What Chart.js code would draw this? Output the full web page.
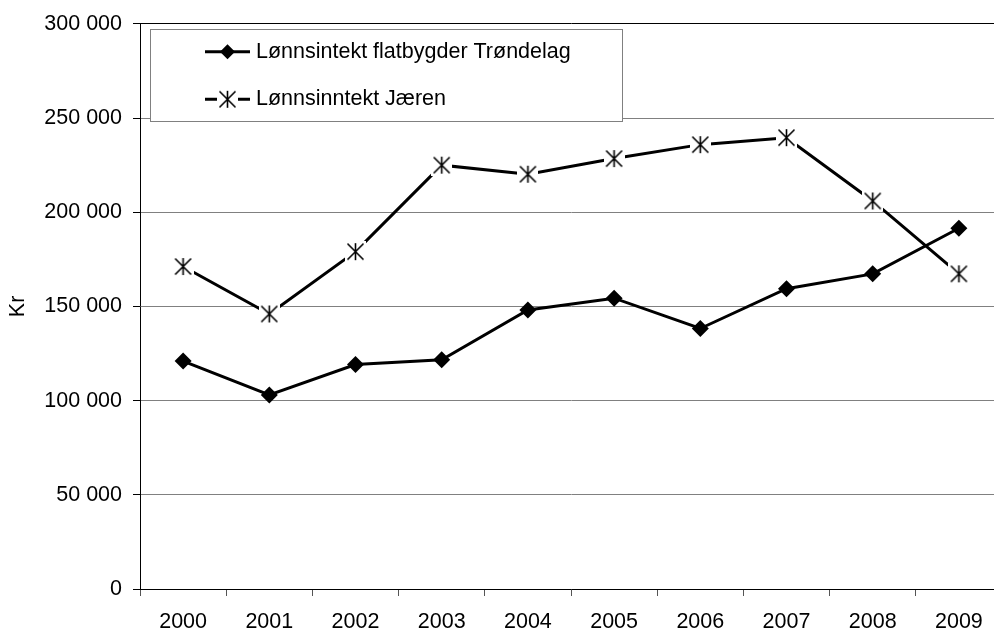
<!DOCTYPE html>
<html>
<head>
<meta charset="utf-8">
<script src="https://cdn.jsdelivr.net/npm/chart.js@4/dist/chart.umd.min.js"></script>
<style>
html,body{margin:0;padding:0;overflow:hidden;background:#fff;width:994px;height:631px}
#wrap{position:relative;width:1002px;height:631px}
</style>
</head>
<body>
<div id="wrap"><canvas id="c" width="1002" height="631"></canvas></div>
<script>
const categories = ['2000','2001','2002','2003','2004','2005','2006','2007','2008','2009'];
const trondelag = [121000,103000,119200,121700,148100,154400,138300,159400,167300,191500];
const jaeren = [171200,146000,179100,225000,220200,228500,235900,239600,206000,167300];
const seriesNames = ['Lønnsintekt flatbygder Trøndelag','Lønnsinntekt Jæren'];
const yTickValues = [0,50000,100000,150000,200000,250000,300000];
const yAxisTitle = 'Kr';

const FONT = "'Liberation Sans', Arial, sans-serif";
const FS = 21.5;

function fmt(v){ return String(v).replace(/\B(?=(\d{3})+(?!\d))/g,' '); }

function makeStar(){
  const size = 21;
  const c = document.createElement('canvas');
  c.width = size; c.height = size;
  const g = c.getContext('2d');
  g.fillStyle = '#fff';
  g.fillRect(0,0,size,size);
  g.strokeStyle = '#000';
  g.lineWidth = 1.6;
  const m = size/2, r = 8.5, d = 8;
  g.beginPath();
  g.moveTo(m, m-r); g.lineTo(m, m+r);
  g.moveTo(m-d, m-d); g.lineTo(m+d, m+d);
  g.moveTo(m+d, m-d); g.lineTo(m-d, m+d);
  g.stroke();
  return c;
}
const starImg = makeStar();

function drawDiamond(ctx, x, y, r){
  ctx.beginPath();
  ctx.moveTo(x, y-r); ctx.lineTo(x+r, y); ctx.lineTo(x, y+r); ctx.lineTo(x-r, y);
  ctx.closePath();
  ctx.fillStyle = '#000';
  ctx.fill();
}

const legendPlugin = {
  id: 'boxLegend',
  afterDraw(chart){
    const ctx = chart.ctx;
    ctx.save();
    const bx = 150.5, by = 29.5, bw = 472, bh = 92;
    ctx.fillStyle = '#fff';
    ctx.fillRect(bx, by, bw, bh);
    ctx.strokeStyle = '#808080';
    ctx.lineWidth = 1;
    ctx.strokeRect(bx, by, bw, bh);
    const ys = [51.7, 99.3];
    chart.data.datasets.forEach((ds, i) => {
      const y = ys[i];
      ctx.strokeStyle = '#000';
      ctx.lineWidth = 3;
      ctx.beginPath();
      ctx.moveTo(205, y); ctx.lineTo(250, y);
      ctx.stroke();
      if (i === 0) drawDiamond(ctx, 227.5, y, 7.5);
      else ctx.drawImage(starImg, 227.5 - starImg.width/2, y - starImg.height/2);
      ctx.fillStyle = '#000';
      ctx.font = FS + 'px ' + FONT;
      ctx.textBaseline = 'middle';
      ctx.textAlign = 'left';
      ctx.fillText(ds.label, 256, y);
    });
    ctx.restore();
  }
};

Chart.defaults.font.family = FONT;
Chart.defaults.font.size = FS;
Chart.defaults.color = '#000';

new Chart(document.getElementById('c'), {
  type: 'line',
  data: {
    labels: categories,
    datasets: [
      {
        label: seriesNames[0],
        data: trondelag,
        borderColor: '#000',
        backgroundColor: '#000',
        borderWidth: 3,
        pointStyle: 'rectRot',
        pointRadius: 8.5,
        pointBorderWidth: 0,
        tension: 0,
        fill: false
      },
      {
        label: seriesNames[1],
        data: jaeren,
        borderColor: '#000',
        backgroundColor: '#000',
        borderWidth: 3,
        pointStyle: starImg,
        pointRadius: 10,
        tension: 0,
        fill: false
      }
    ]
  },
  options: {
    responsive: false,
    animation: false,
    events: [],
    layout: { autoPadding: false, padding: { top: 21, left: 0, right: 0, bottom: 0 } },
    plugins: { legend: { display: false }, tooltip: { enabled: false } },
    scales: {
      x: {
        type: 'category',
        offset: true,
        grid: { offset: true, drawOnChartArea: false, drawTicks: true, tickLength: 7, color: '#555', lineWidth: 1 },
        border: { color: '#000', width: 1 },
        ticks: { color: '#000', padding: 13, maxRotation: 0, autoSkip: false, font: { size: FS, family: FONT } },
        afterFit(s){ s.height = 42; s.paddingLeft = 0; s.paddingRight = 0; }
      },
      y: {
        min: 0,
        max: 300000,
        afterBuildTicks(s){ s.ticks = yTickValues.map(v => ({ value: v })); },
        ticks: { color: '#000', padding: 11, callback: v => fmt(v), font: { size: FS, family: FONT } },
        grid: {
          color: ctx => (ctx.tick && ctx.tick.value === 300000) ? '#000' : '#808080',
          tickColor: '#000',
          tickLength: 7,
          lineWidth: 1
        },
        border: { color: '#000', width: 1 },
        title: { display: true, text: yAxisTitle, color: '#000', padding: { top: 5, bottom: 0 }, font: { size: FS, family: FONT } },
        afterFit(s){ s.width = 140; }
      }
    }
  },
  plugins: [legendPlugin]
});
</script>
</body>
</html>
